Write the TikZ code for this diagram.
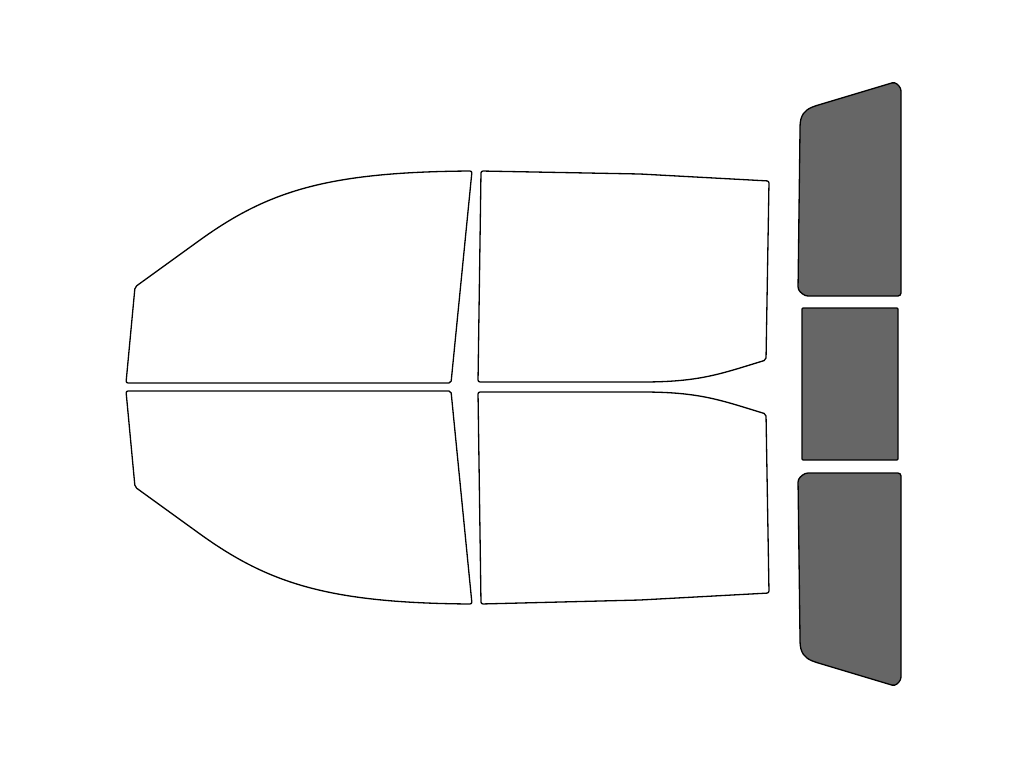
\documentclass[tikz,border=0pt]{standalone}
\begin{document}
\begin{tikzpicture}[x=1pt,y=-1pt,
  win/.style={draw=black,line width=1.3pt,fill=white,rounded corners=2pt,line join=round},
  tint/.style={draw=black,line width=1.3pt,fill=black!60,rounded corners=3pt,line join=round}]
\useasboundingbox (0,0) rectangle (1024,768);
% top-left
\draw[win] (135,287) -- (200,240) .. controls (270,190) and (330,172) .. (472,171) -- (451,383) -- (126,383) -- cycle;
% top-right
\draw[win] (481,171) -- (640,174) -- (769,181) -- (766,360) .. controls (720,374) and (700,382) .. (640,382) -- (478,382) -- cycle;
% bottom-left
\draw[win] (135,487) -- (200,534) .. controls (270,584) and (330,603) .. (472,604) -- (451,391) -- (126,391) -- cycle;
% bottom-right
\draw[win] (481,604) -- (640,600) -- (769,593) -- (766,414) .. controls (720,400) and (700,392) .. (640,392) -- (478,392) -- cycle;
% tinted
\draw[tint] (800,130) .. controls (800,115) and (805,110) .. (815,106) -- (895,82) -- (901,88) -- (901,296) -- (805,296) -- (798,290) -- cycle;
\draw[tint,rounded corners=1pt] (802,308) rectangle (898,460);
\draw[tint] (800,638) .. controls (800,653) and (805,658) .. (815,662) -- (895,686) -- (901,680) -- (901,473) -- (805,473) -- (798,479) -- cycle;
\end{tikzpicture}
\end{document}
